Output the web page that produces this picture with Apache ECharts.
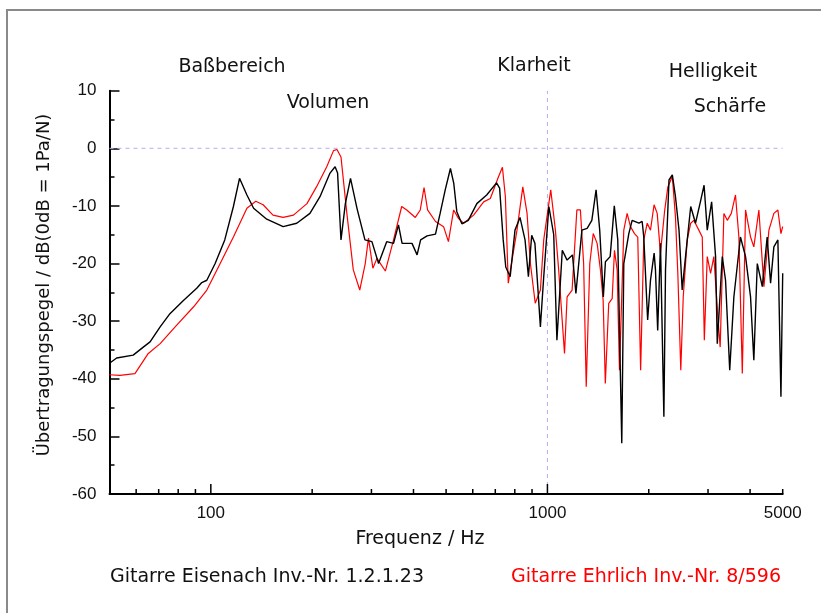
<!DOCTYPE html>
<html><head><meta charset="utf-8">
<script src="https://cdn.jsdelivr.net/npm/echarts@6/dist/echarts.min.js"></script>
<style>html,body{margin:0;padding:0;background:#fff}#c{width:821px;height:613px}</style>
</head><body><div id="c"></div>
<script>
// Gitarre Eisenach (black)
const blackFreq = [50,52.5,58.8,63,66,70.7,75.6,82.9,90.8,94,97.3,103,110,116.7,121.7,128,134,146.6,164,180,197,211,226,234,238,243.6,251,260,272,287,301,315,333,349,361,370,396,410,420,439,465,480,497,515,527,538,557,582,617,660,706,721,739,752,775,801,829,858,878,898,918,953,975,1010,1044,1067,1107,1144,1187,1215,1266,1312,1355,1395,1430,1466,1487,1536,1580,1618,1644,1663,1686,1745,1785,1870,1912,1933,1985,2024,2075,2094,2126,2167,2218,2243,2297,2350,2401,2460,2514,2572,2665,2754,2855,2920,2984,3075,3159,3196,3307,3382,3480,3580,3745,3878,4013,4104,4202,4349,4496,4602,4707,4838,4940,5000];
const blackDb   = [-37.3,-36.4,-35.9,-34.5,-33.6,-31.0,-28.7,-26.4,-24.3,-23.3,-22.9,-20.0,-15.9,-10.1,-5.2,-8.1,-10.4,-12.3,-13.6,-13.0,-11.3,-8.4,-4.3,-3.2,-4.3,-15.9,-9.6,-5.2,-10.5,-15.9,-16.2,-20.0,-16.2,-16.5,-13.3,-16.5,-16.5,-18.5,-15.9,-15.2,-14.9,-11.3,-7.2,-3.5,-6.1,-11.0,-13.1,-12.5,-9.6,-8.1,-6.0,-6.9,-15.9,-20.6,-22.3,-14.2,-12.0,-15.9,-22.3,-15.1,-16.5,-31.0,-22.3,-10.1,-15.0,-33.3,-17.7,-19.4,-18.5,-25.2,-14.2,-13.9,-12.5,-7.2,-14.2,-25.8,-19.7,-18.8,-10.0,-15.9,-36.8,-51.2,-20.0,-14.8,-12.5,-13.0,-12.7,-15.4,-29.8,-22.9,-18.2,-21.1,-31.6,-16.5,-46.6,-21.1,-5.5,-4.6,-8.4,-14.2,-24.6,-18.8,-10.1,-13.0,-9.0,-6.4,-14.2,-9.3,-18.8,-33.9,-18.8,-22.9,-38.5,-25.8,-15.4,-18.8,-25.8,-36.8,-20.0,-24.0,-15.4,-23.4,-17.1,-15.9,-43.1,-21.7];
// Gitarre Ehrlich (red)
const redFreq = [50,53.7,59.5,65.2,70.7,79.2,88.9,97.3,106.6,116.7,128,136,143,153,164,176,193,206,221,231.5,237,243.6,253.6,265,277,287.6,294,303,311.6,330,349,369,382,405,419,430,440.5,465,491.5,508,526.5,544.6,563.6,603.6,646.4,676.7,716,735,750,765,785,812,845,870,890,920,953,975,1023,1056,1080,1124,1144,1184,1223,1253,1281,1304,1336,1368,1405,1437,1464,1486,1521,1557,1582,1611,1637,1686,1725,1765,1814,1855,1892,1933,1979,2024,2074,2119,2167,2228,2279,2350,2401,2440,2490,2532,2602,2665,2722,2817,2884,2925,2984,3053,3122,3209,3260,3344,3423,3518,3620,3705,3793,3878,4013,4104,4248,4397,4550,4707,4838,4940,5000];
const redDb   = [-39.3,-39.4,-39.1,-35.6,-33.9,-30.7,-27.5,-24.6,-20.0,-15.4,-10.4,-9.2,-9.8,-11.6,-12.0,-11.6,-9.6,-6.7,-3.2,-0.4,-0.2,-1.5,-11.3,-21.1,-24.6,-20.0,-15.6,-20.8,-19.1,-21.3,-15.9,-10.1,-10.7,-12.0,-10.7,-6.8,-10.7,-12.7,-13.6,-16.2,-10.7,-12.2,-13.0,-11.6,-9.3,-8.7,-4.9,-3.3,-8.4,-23.4,-19.4,-14.2,-6.7,-11.3,-20.0,-26.9,-24.6,-15.9,-7.2,-14.2,-21.1,-35.6,-25.8,-24.6,-10.7,-10.7,-20.0,-41.4,-20.0,-14.8,-16.5,-21.1,-26.4,-40.8,-26.9,-26.1,-17.7,-21.1,-38.5,-14.2,-11.3,-13.6,-14.8,-15.4,-38.5,-15.9,-13.0,-14.2,-9.8,-11.3,-18.2,-11.0,-6.7,-4.9,-11.9,-21.7,-38.5,-25.8,-15.9,-13.0,-12.5,-14.2,-15.4,-33.3,-18.8,-21.7,-18.8,-29.3,-34.5,-11.3,-12.5,-11.3,-8.1,-15.4,-39.1,-10.7,-15.4,-17.1,-10.7,-24.0,-14.2,-11.3,-10.7,-14.8,-13.6];

const xTickLabels = [100, 1000, 5000];
const xMajorTicks = [100, 1000];
const xMinorTicks = [60,70,80,90,200,300,400,500,600,700,800,900,2000,3000,4000,5000];
const yMin = -60, yMax = 10, yStep = 10;
const xMin = 50, xMax = 5000;
const refDb = 0, refFreq = 1000;

const FONT = '"Liberation Sans", Arial, sans-serif';
const WFONT = '"DejaVu Sans", sans-serif';
const chart = echarts.init(document.getElementById('c'), null, {renderer:'canvas'});

function zip(a,b){ return a.map((v,i)=>[v,b[i]]); }
function tickSeries(vals, len){
  return {
    type:'custom', silent:true, clip:false, z:5,
    data: vals.map(v=>[v, yMin]),
    encode:{x:0,y:1},
    renderItem:function(params, api){
      const p = api.coord([api.value(0), api.value(1)]);
      return {type:'line', shape:{x1:p[0],y1:p[1],x2:p[0],y2:p[1]-len}, style:{stroke:'#000', lineWidth:1.5}};
    }
  };
}
const refStyle = {color:'#b0b0f2', type:[4,4], width:1};

const option = {
  backgroundColor:'#fff',
  animation:false,
  grid:{left:109.5, right:38.3, top:90.7, bottom:119, containLabel:false},
  xAxis:{
    type:'log', logBase:10, min:xMin, max:xMax,
    axisLine:{show:true, onZero:false, lineStyle:{color:'#000', width:2}},
    axisTick:{show:false},
    splitLine:{show:false},
    minorTick:{show:false},
    axisLabel:{
      show:true, margin:11, fontSize:17, color:'#111', fontFamily:FONT,
      showMinLabel:true, showMaxLabel:true,
      formatter:function(v){ const r=Math.round(v); return xTickLabels.indexOf(r)>=0 ? String(r) : ''; }
    }
  },
  yAxis:{
    type:'value', min:yMin, max:yMax, interval:yStep,
    axisLine:{show:true, onZero:false, lineStyle:{color:'#000', width:2}},
    axisTick:{show:true, inside:true, length:10, lineStyle:{color:'#000', width:1.5}},
    minorTick:{show:true, splitNumber:2, length:5, lineStyle:{color:'#000', width:1.5}},
    splitLine:{show:false},
    axisLabel:{margin:13, fontSize:17, color:'#111', fontFamily:FONT}
  },
  graphic:[
    {type:'rect', silent:true, z:-10, shape:{x:7, y:10, width:900, height:700}, style:{fill:'none', stroke:'#8a8a8a', lineWidth:2}},
    {type:'text', x:232, y:67, style:{text:'Baßbereich', font:'19px '+WFONT, fill:'#111', textAlign:'center', textVerticalAlign:'middle'}},
    {type:'text', x:328, y:103, style:{text:'Volumen', font:'19px '+WFONT, fill:'#111', textAlign:'center', textVerticalAlign:'middle'}},
    {type:'text', x:534, y:66, style:{text:'Klarheit', font:'19px '+WFONT, fill:'#111', textAlign:'center', textVerticalAlign:'middle'}},
    {type:'text', x:713, y:72, style:{text:'Helligkeit', font:'19px '+WFONT, fill:'#111', textAlign:'center', textVerticalAlign:'middle'}},
    {type:'text', x:730, y:107, style:{text:'Schärfe', font:'19px '+WFONT, fill:'#111', textAlign:'center', textVerticalAlign:'middle'}},
    {type:'text', x:420, y:539, style:{text:'Frequenz / Hz', font:'19px '+WFONT, fill:'#111', textAlign:'center', textVerticalAlign:'middle'}},
    {type:'text', x:44, y:285, rotation:Math.PI/2, style:{text:'Übertragungspegel / dB(0dB = 1Pa/N)', font:'18px '+WFONT, fill:'#111', textAlign:'center', textVerticalAlign:'middle'}},
    {type:'text', x:267, y:577, style:{text:'Gitarre Eisenach Inv.-Nr. 1.2.1.23', font:'19px '+WFONT, fill:'#111', textAlign:'center', textVerticalAlign:'middle'}},
    {type:'text', x:646, y:577, style:{text:'Gitarre Ehrlich Inv.-Nr. 8/596', font:'19px '+WFONT, fill:'#ff0000', textAlign:'center', textVerticalAlign:'middle'}}
  ],
  series:[
    {type:'line', data:[[xMin,refDb],[xMax,refDb]], showSymbol:false, symbol:'none', lineStyle:refStyle, z:1, silent:true},
    {type:'line', data:[[refFreq,yMin],[refFreq,yMax]], showSymbol:false, symbol:'none', lineStyle:refStyle, z:1, silent:true},
    {
      name:'Gitarre Ehrlich', type:'line', data:zip(redFreq, redDb), showSymbol:false, symbol:'none',
      lineStyle:{color:'#ff0000', width:1.2}, z:3, silent:true
    },
    {
      name:'Gitarre Eisenach', type:'line', data:zip(blackFreq, blackDb), showSymbol:false, symbol:'none',
      lineStyle:{color:'#000', width:1.4}, z:4, silent:true
    },
    tickSeries(xMajorTicks, 10),
    tickSeries(xMinorTicks, 5)
  ]
};
chart.setOption(option);
</script>
</body></html>
